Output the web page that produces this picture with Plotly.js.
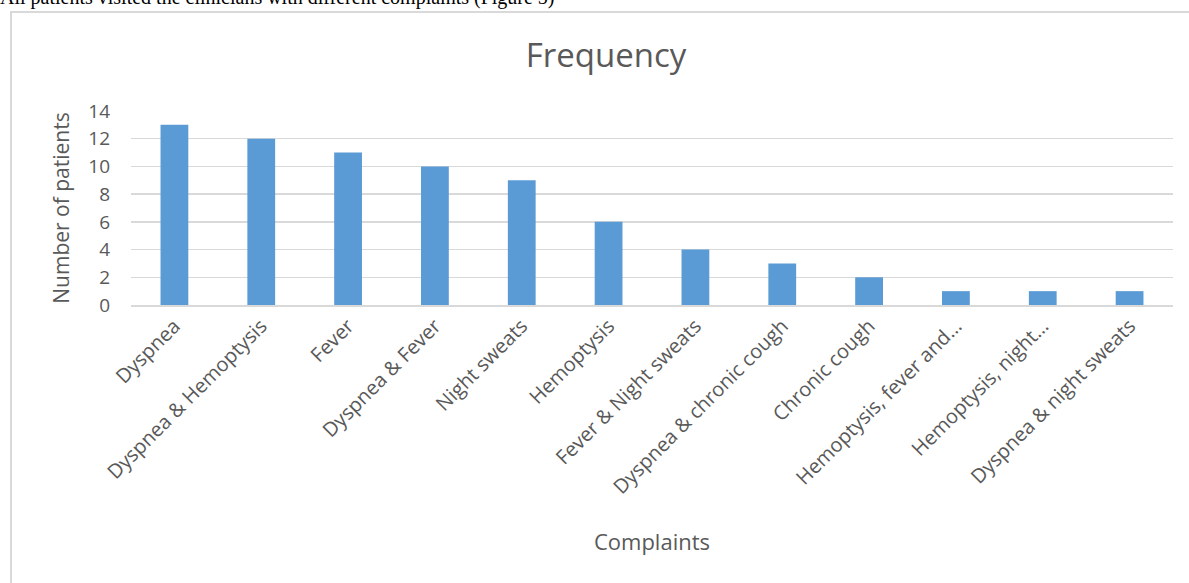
<!DOCTYPE html>
<html>
<head>
<meta charset="utf-8">
<script src="https://cdn.plot.ly/plotly-3.0.1.min.js"></script>
<style>
  html, body { margin: 0; padding: 0; background: #fff; overflow: hidden; }
  body { width: 1189px; height: 583px; position: relative; }
  #caption { position: absolute; left: 0; top: -14px; font-family: "Liberation Serif", "Times New Roman", serif; font-size: 20px; color: #000; white-space: nowrap; line-height: normal; }
  #frame { position: absolute; left: 10px; top: 11px; width: 1200px; height: 600px; border: 2px solid #d9d9d9; box-sizing: border-box; }
  #chart { position: absolute; left: 0; top: 0; width: 1189px; height: 583px; }
</style>
</head>
<body>
<div id="caption">All patients visited the clinicians with different complaints (Figure 5)</div>
<div id="frame"></div>
<div id="chart"></div>
<script>
const categories = [
  "Dyspnea",
  "Dyspnea & Hemoptysis",
  "Fever",
  "Dyspnea & Fever",
  "Night sweats",
  "Hemoptysis",
  "Fever & Night sweats",
  "Dyspnea & chronic cough",
  "Chronic cough",
  "Hemoptysis, fever and…",
  "Hemoptysis, night…",
  "Dyspnea & night sweats"
];
const patients = [13, 12, 11, 10, 9, 6, 4, 3, 2, 1, 1, 1];
const yTicks = [0, 2, 4, 6, 8, 10, 12, 14];

const fontFam = "Open Sans, Noto Sans, sans-serif";
const gray = "#595959";

const data = [{
  type: "bar",
  x: categories,
  y: patients,
  marker: { color: "#5b9bd5" },
  hoverinfo: "x+y"
}];

const layout = {
  width: 1189,
  height: 583,
  paper_bgcolor: "rgba(0,0,0,0)",
  plot_bgcolor: "rgba(0,0,0,0)",
  margin: { l: 131, r: 16, t: 111, b: 278, autoexpand: false },
  bargap: 0.68,
  showlegend: false,
  title: {
    text: "Frequency",
    font: { family: fontFam, size: 33, color: gray },
    x: 606 / 1189, xref: "container", xanchor: "center",
    y: 57, yref: "container", yanchor: "middle"
  },
  xaxis: {
    type: "category",
    tickangle: -45,
    tickfont: { family: fontFam, size: 20, color: gray },
    showgrid: false,
    showline: true,
    linecolor: "#d9d9d9",
    linewidth: 1.5,
    ticks: "",
    ticklabelstandoff: 0,
    automargin: false,
    title: {
      text: "Complaints",
      font: { family: fontFam, size: 22, color: gray },
      standoff: 36
    }
  },
  yaxis: {
    range: [0, 14],
    tickvals: yTicks,
    ticktext: yTicks.map(String),
    tickfont: { family: fontFam, size: 19, color: gray },
    showgrid: true,
    gridcolor: "#d9d9d9",
    gridwidth: 1.3,
    zeroline: false,
    showline: false,
    ticks: "",
    ticklabelstandoff: 20,
    automargin: false,
    title: {
      text: "Number of patients",
      font: { family: fontFam, size: 21, color: gray },
      standoff: 12
    }
  }
};

Plotly.newPlot("chart", data, layout, { displayModeBar: false, staticPlot: true });
</script>
</body>
</html>
